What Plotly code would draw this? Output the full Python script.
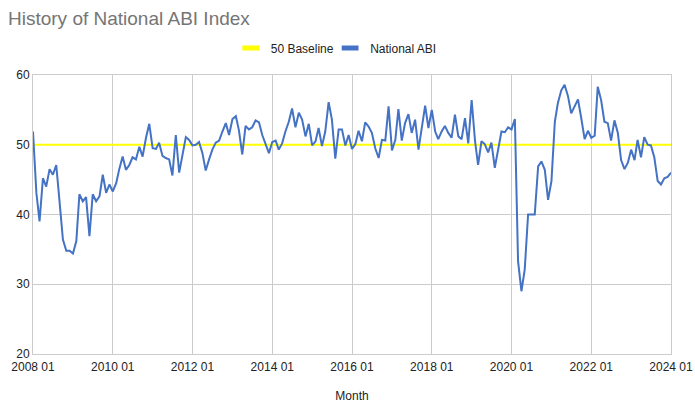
import plotly.graph_objects as go

start_year = 2008
abi_values = [
    51.9, 43.1, 39.0, 45.2, 44.0, 46.5, 45.7, 47.1, 41.7, 36.4, 34.8, 34.8,
    34.4, 36.2, 42.9, 41.9, 42.5, 36.9, 42.9, 41.9, 42.6, 45.7, 43.1, 44.3,
    43.3, 44.5, 46.5, 48.3, 46.4, 47.1, 48.2, 47.9, 49.7, 48.3, 51.0, 53.0,
    49.5, 49.4, 50.3, 48.4, 48.1, 47.9, 45.6, 51.4, 46.0, 48.6, 51.1, 50.7,
    49.9, 50.0, 50.4, 48.8, 46.3, 47.9, 49.3, 50.3, 50.6, 51.9, 53.1, 51.4,
    53.7, 54.1, 52.1, 48.6, 52.7, 52.2, 52.5, 53.5, 53.2, 51.4, 50.1, 48.8,
    50.4, 50.6, 49.3, 50.2, 51.9, 53.3, 55.2, 52.5, 54.6, 53.6, 51.2, 53.0,
    49.9, 50.5, 52.4, 49.8, 51.9, 56.1, 53.6, 48.0, 52.2, 52.2, 49.9, 51.4,
    49.4, 50.1, 52.0, 50.5, 53.2, 52.6, 51.7, 49.5, 48.1, 50.7, 50.6, 55.5,
    49.2, 50.7, 55.1, 50.6, 53.1, 54.4, 51.7, 53.6, 49.3, 52.6, 55.6, 52.4,
    55.0, 51.9, 50.8, 51.9, 52.7, 51.7, 51.0, 54.3, 51.2, 50.8, 53.8, 50.2,
    56.4, 50.5, 47.1, 50.5, 50.1, 48.9, 50.3, 46.7, 49.3, 51.9, 51.8, 52.5,
    52.2, 53.7, 33.3, 29.0, 32.1, 40.0, 40.0, 40.0, 46.9, 47.6, 46.4, 42.1,
    44.8, 53.3, 56.0, 57.8, 58.6, 57.0, 54.5, 55.5, 56.5, 53.8, 50.8, 52.0,
    51.0, 51.3, 58.3, 56.4, 53.3, 53.1, 50.6, 53.5, 51.7, 47.8, 46.5, 47.4,
    49.3, 47.8, 50.7, 48.2, 51.1, 50.0, 49.9, 48.2, 44.8, 44.3, 45.2, 45.4,
    46.0,
]
months = [f"{start_year + i // 12}-{i % 12 + 1:02d}-01" for i in range(len(abi_values))]
baseline_values = [50] * len(abi_values)
tick_labels = [f"{y} 01" for y in range(2008, 2025, 2)]
tick_vals = [f"{y}-01-01" for y in range(2008, 2025, 2)]

YELLOW = "#ffff00"
BLUE = "#4472c4"
FONT = "Liberation Sans, Arial, sans-serif"

fig = go.Figure()
fig.add_trace(go.Scatter(x=months, y=baseline_values, mode="lines",
                         line=dict(color=YELLOW, width=2), showlegend=False,
                         name="50 Baseline"))
fig.add_trace(go.Scatter(x=months, y=abi_values, mode="lines",
                         line=dict(color=BLUE, width=2), showlegend=False,
                         name="National ABI"))
# legend-only entries, one legend each for exact placement
for nm, col, lg in [("50 Baseline", YELLOW, "legend"), ("National ABI", BLUE, "legend2")]:
    fig.add_trace(go.Scatter(x=[None], y=[None], mode="markers", name=nm,
                             legend=lg,
                             marker=dict(symbol="line-ew", size=12,
                                         line=dict(width=5, color=col))))

legend_common = dict(orientation="h", xref="container", xanchor="left",
                     yref="container", y=1 - 48 / 414, yanchor="middle",
                     itemwidth=30, font=dict(size=12, color="#222222"),
                     bgcolor="rgba(0,0,0,0)")

fig.update_layout(
    width=695, height=414,
    margin=dict(l=33, r=24, t=75, b=60, autoexpand=False),
    paper_bgcolor="white", plot_bgcolor="white",
    font=dict(family=FONT, size=12, color="#444444"),
    title=dict(text="History of National ABI Index",
               xref="container", x=8 / 695, xanchor="left",
               yref="container", y=1 - 18 / 414, yanchor="middle",
               font=dict(size=19, color="#757575", family=FONT)),
    legend=dict(x=0.332, **legend_common),
    legend2=dict(x=0.475, **legend_common),
    showlegend=True,
)
fig.update_xaxes(type="date", range=["2008-01-01", "2024-01-01"],
                 tickvals=tick_vals, ticktext=tick_labels,
                 showgrid=True, gridcolor="#cccccc", gridwidth=1,
                 showline=True, linecolor="#cccccc", mirror=True,
                 zeroline=False, ticks="", ticklabelstandoff=2,
                 tickfont=dict(size=12, color="#222222"),
                 title=dict(text="Month", font=dict(size=12, color="#222222"),
                            standoff=18))
fig.update_yaxes(range=[20, 60], dtick=10, tick0=20,
                 showgrid=True, gridcolor="#cccccc", gridwidth=1,
                 showline=True, linecolor="#cccccc", mirror=True,
                 zeroline=False, ticks="",
                 tickfont=dict(size=12, color="#222222"))

fig.write_html("out.html", config={"displayModeBar": False},
               post_script="document.body.style.margin='0';")
